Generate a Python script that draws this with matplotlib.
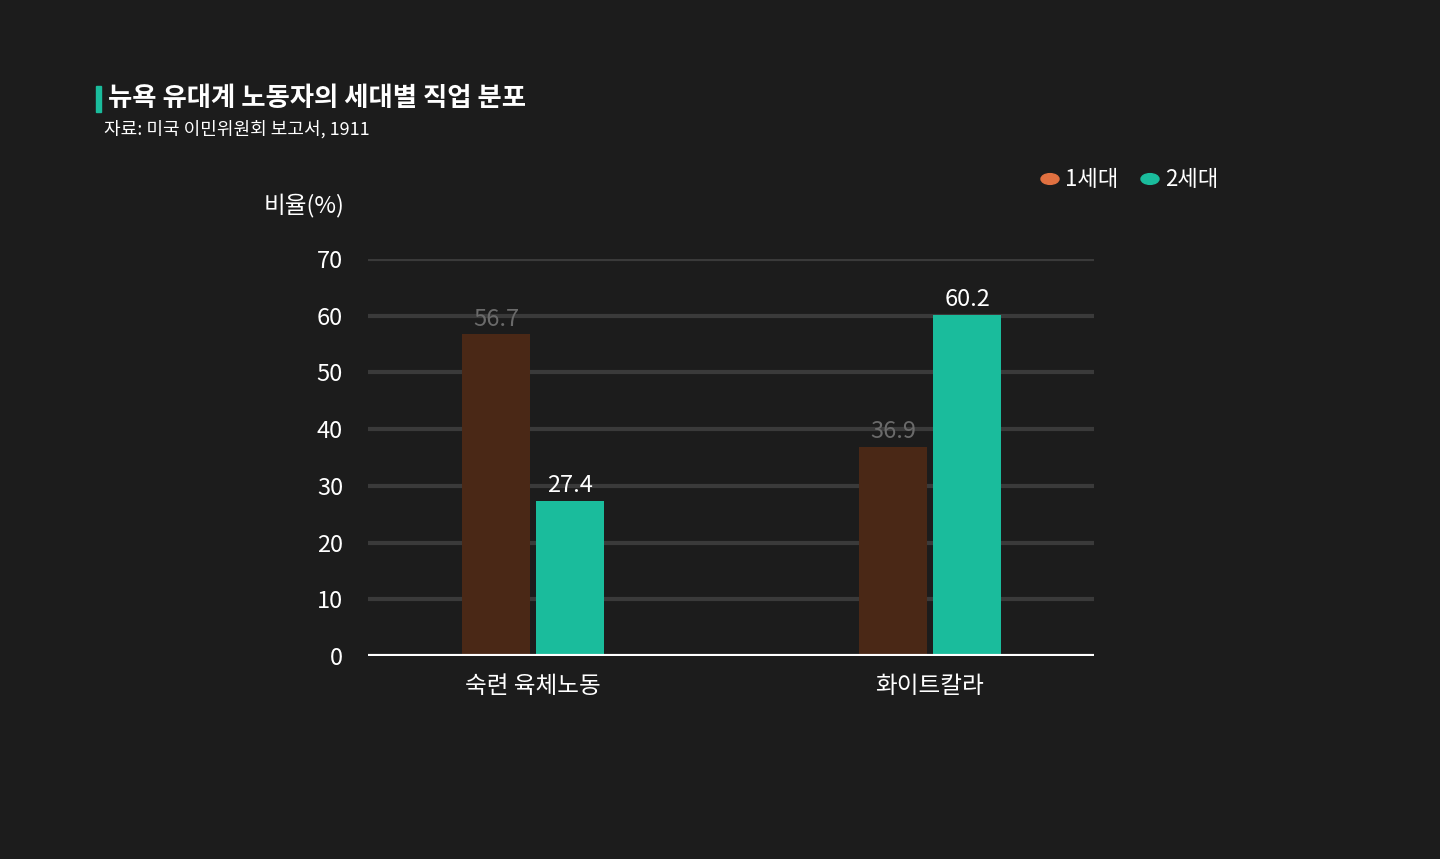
import numpy as np
import matplotlib.pyplot as plt

plt.rcParams['font.family'] = ['Noto Sans CJK KR', 'DejaVu Sans']

categories = ['숙련 육체노동', '화이트칼라']
gen1 = [56.7, 36.9]
gen2 = [27.4, 60.2]
yticks = [0, 10, 20, 30, 40, 50, 60, 70]

bg = '#1c1c1c'
fig = plt.figure(figsize=(14.4, 8.59), dpi=100, facecolor=bg)
ax = fig.add_axes([368/1440, 1-656/859, 726/1440, 397/859], facecolor=bg)

x = np.arange(len(categories))
w = 68/397
off = 37/397
ax.bar(x - off, gen1, w, color='#4a2816', zorder=3)
ax.bar(x + off, gen2, w, color='#1abc9c', zorder=3)
for xi, v in zip(x - off, gen1):
    ax.text(xi, v + 0.6, f'{v}', ha='center', va='bottom', color='#6a6a6a', fontsize=17)
for xi, v in zip(x + off, gen2):
    ax.text(xi, v + 0.6, f'{v}', ha='center', va='bottom', color='white', fontsize=17)

ax.set_xlim((368-533)/397, (1094-533)/397)
ax.set_ylim(0, 70)
ax.set_yticks(yticks)
ax.set_xticks(x)
ax.set_xticklabels(categories)
for y in yticks[1:]:
    ax.axhline(y, color='#3a3a3a', lw=3, zorder=1)
ax.axhline(0, color='white', lw=3, zorder=4)
for s in ax.spines.values():
    s.set_visible(False)
ax.tick_params(length=0, colors='white', labelsize=17)
ax.tick_params(axis='y', pad=18)
ax.tick_params(axis='x', pad=14)

fig.text(264/1440, 1-205/859, '비율(%)', color='white', fontsize=17, va='center')
fig.patches.append(plt.Rectangle((96/1440, 1-112/859), 5/1440, 26/859,
                                 transform=fig.transFigure, color='#1abc9c'))
fig.text(108/1440, 1-99/859, '뉴욕 유대계 노동자의 세대별 직업 분포', color='white',
         fontsize=19, va='center', fontweight='bold')
fig.text(104/1440, 1-129/859, '자료: 미국 이민위원회 보고서, 1911', color='white',
         fontsize=13, va='center')

fig.patches.append(plt.Circle((1050/1440, 1-179/859), 9/1440, transform=fig.transFigure,
                              color='#e07040'))
fig.text(1065/1440, 1-179/859, '1세대', color='white', fontsize=16, va='center')
fig.patches.append(plt.Circle((1150/1440, 1-179/859), 9/1440, transform=fig.transFigure,
                              color='#1abc9c'))
fig.text(1165/1440, 1-179/859, '2세대', color='white', fontsize=16, va='center')

fig.savefig('out.png', dpi=100, facecolor=bg)
